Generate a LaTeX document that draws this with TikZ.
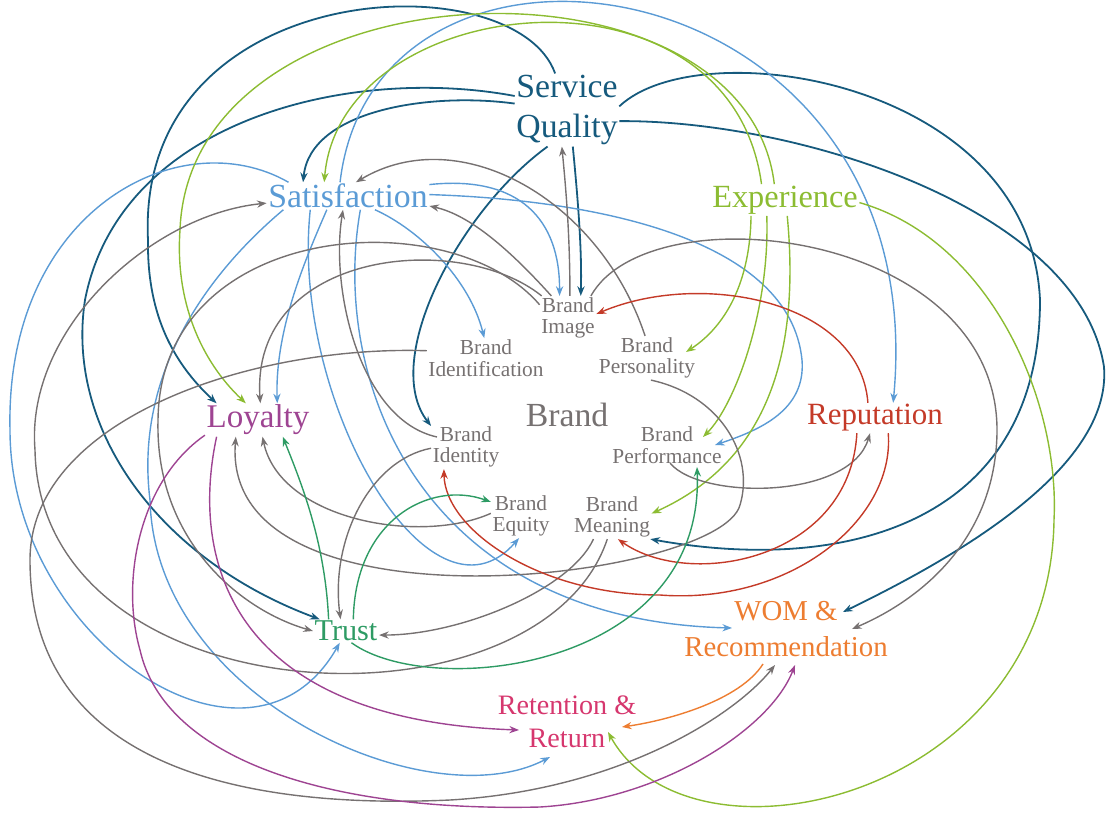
\documentclass[tikz,border=0pt]{standalone}
\usepackage{fontspec}
\setmainfont{Liberation Serif}
\usepackage{tikz}
\usetikzlibrary{arrows.meta}

\definecolor{sqc}{RGB}{22,90,125}
\definecolor{satc}{RGB}{91,155,213}
\definecolor{expc}{RGB}{140,188,50}
\definecolor{loyc}{RGB}{158,68,146}
\definecolor{repc}{RGB}{196,58,40}
\definecolor{trustc}{RGB}{46,155,100}
\definecolor{womc}{RGB}{237,125,49}
\definecolor{retc}{RGB}{214,55,110}
\definecolor{brc}{RGB}{118,113,113}

\begin{document}
\begin{tikzpicture}[
    x=0.025cm, y=-0.025cm,
    concept/.style={
        align=center,
        inner sep=1pt
    },
    part/.style={
        align=center,
        inner sep=1pt,
        text=brc,
        font=\fontsize{15.2}{15.2}\selectfont
    },
    link/.style={
        -{Stealth[length=2.4mm, width=1.8mm]},
        line width=0.35mm
    }
]
\useasboundingbox (0,0) rectangle (1109,814);

\node[concept, text=sqc, font=\fontsize{24}{28.5}\selectfont] (sq) at (567,110) {Service\\Quality};
\node[concept, text=satc, font=\fontsize{24}{28}\selectfont] (sat) at (348,196) {Satisfaction};
\node[concept, text=expc, font=\fontsize{23}{28}\selectfont] (exp) at (785,200) {Experience};
\node[concept, text=loyc, font=\fontsize{23.5}{28}\selectfont] (loy) at (258,420) {Loyalty};
\node[concept, text=brc, font=\fontsize{24}{28}\selectfont] (brand) at (567,415) {Brand};
\node[concept, text=repc, font=\fontsize{22}{28}\selectfont] (rep) at (875,418) {Reputation};
\node[concept, text=trustc, font=\fontsize{21.5}{28}\selectfont] (trust) at (346,631) {Trust};
\node[concept, text=womc, font=\fontsize{20.5}{25}\selectfont] (wom) at (786,629) {WOM \&\\Recommendation};
\node[concept, text=retc, font=\fontsize{20}{23.5}\selectfont] (ret) at (567,722) {Retention \&\\Return};

\node[part] (bimg) at (568,318) {Brand\\Image};
\node[part] (bidf) at (486,358) {Brand\\Identification};
\node[part] (bper) at (647,358) {Brand\\Personality};
\node[part] (bidt) at (466,447) {Brand\\Identity};
\node[part] (bperf) at (667,445) {Brand\\Performance};
\node[part] (beq) at (521,516) {Brand\\Equity};
\node[part] (bmean) at (612,517) {Brand\\Meaning};

% service quality
\draw[link, sqc, line width=0.45mm] (sq.173) .. controls (430,92) and (310,110) .. (sat.163);
\draw[link, sqc, line width=0.45mm] (sq.108) .. controls (515,-40) and (135,-25) .. (148,240) .. controls (147,310) and (170,360) .. (loy.158);
\draw[link, sqc, line width=0.45mm] (sq.165) .. controls (350,65) and (120,120) .. (85,300) .. controls (65,430) and (160,560) .. (trust.156);
\draw[link, sqc, line width=0.45mm] (sq.-81) .. controls (578,200) and (582,250) .. (bimg.60);
\draw[link, sqc, line width=0.45mm] (sq.242) .. controls (460,210) and (380,360) .. (bidt.149);
\draw[link, sqc, line width=0.45mm] (sq.4) .. controls (700,30) and (1030,80) .. (1040,300) .. controls (1040,520) and (850,575) .. (bmean.-30);
\draw[link, sqc, line width=0.45mm] (sq.-12) .. controls (800,120) and (1080,210) .. (1104,367) .. controls (1112,470) and (950,560) .. ([shift={(57,-17)}]wom.center);

% satisfaction
\draw[link, satc] (sat.8) .. controls (520,175) and (560,220) .. (bimg.111);
\draw[link, satc] (sat.-27) .. controls (420,230) and (470,280) .. (bidf.95);
\draw[link, satc] (sat.1) .. controls (600,200) and (790,240) .. (802,360) .. controls (806,410) and (760,430) .. ([shift={(48,0)}]bperf.center);
\draw[link, satc] (sat.213) .. controls (305,260) and (275,330) .. (loy.41);
\draw[link, satc] (sat.200) .. controls (290,400) and (430,640) .. (beq.265);
\draw[link, satc] (sat.312) .. controls (330,380) and (420,620) .. ([shift={(-54,-1)}]wom.center);
\draw[link, satc] (sat.192) .. controls (200,280) and (135,380) .. (150,500) .. controls (155,700) and (430,820) .. ([shift={(-17,35)}]ret.center);
\draw[link, satc] (sat.167) .. controls (180,120) and (5,210) .. (10,430) .. controls (10,640) and (250,800) .. (trust.242);
\draw[link, satc] (sat.120) .. controls (375,-120) and (935,-40) .. (rep.40);

% experience
\draw[link, expc] (exp.146) .. controls (730,-50) and (340,-10) .. (sat.150);
\draw[link, expc] (exp.124) .. controls (745,-60) and (190,-40) .. (180,230) .. controls (175,300) and (200,360) .. (loy.126);
\draw[link, expc] (exp.205) .. controls (750,290) and (720,330) .. ([shift={(39,-6)}]bper.center);
\draw[link, expc] (exp.221) .. controls (770,310) and (735,405) .. ([shift={(36,-8)}]bperf.center);
\draw[link, expc] (exp.278) .. controls (800,350) and (770,460) .. (bmean.5);
\draw[link, expc] (exp.-2) .. controls (990,240) and (1060,400) .. (1054,520) .. controls (1050,800) and (690,880) .. ([shift={(41,10)}]ret.center);

% brand parts
\draw[link, brc] (bimg.85) .. controls (570,230) and (565,180) .. (sq.262);
\draw[link, brc] (bimg.127) .. controls (510,250) and (470,215) .. (sat.-7);
\draw[link, brc] (bper.95) .. controls (600,200) and (460,120) .. (sat.60);
\draw[link, brc] (bmean.258) .. controls (540,740) and (40,720) .. (35,450) .. controls (25,330) and (150,215) .. (sat.185);
\draw[link, brc] ([shift={(-29,-10)}]bidt.center) .. controls (360,420) and (330,290) .. (sat.250);
\draw[link, brc] (bimg.140) .. controls (460,230) and (250,250) .. (loy.82);
\draw[link, brc] (bper.-80) .. controls (720,395) and (755,455) .. (740,505) .. controls (720,580) and (220,640) .. (loy.217);
\draw[link, brc] (beq.175) .. controls (420,545) and (280,520) .. (loy.285);
\draw[link, brc] (bimg.155) .. controls (450,200) and (160,220) .. (158,420) .. controls (155,540) and (240,610) .. (trust.180);
\draw[link, brc] (bidt.182) .. controls (370,460) and (330,540) .. (trust.115);
\draw[link, brc] (bmean.230) .. controls (570,590) and (460,635) .. (trust.-7);
\draw[link, brc] ([shift={(3,18)}]bperf.center) .. controls (700,500) and (850,500) .. (rep.252);
\draw[link, brc] (bimg.44) .. controls (650,190) and (1000,230) .. (997,433) .. controls (995,540) and (920,600) .. ([shift={(66,0)}]wom.center);
\draw[link, brc] (bidf.173) .. controls (250,345) and (30,420) .. (30,560) .. controls (30,760) and (230,810) .. (450,800) .. controls (620,790) and (735,715) .. ([shift={(-11,36)}]wom.center);

% loyalty
\draw[link, loyc] (loy.202) .. controls (190,560) and (230,720) .. ([shift={(-48,8)}]ret.center);
\draw[link, loyc] (loy.196) .. controls (140,480) and (120,580) .. (140,650) .. controls (165,760) and (330,812) .. (540,807) .. controls (660,800) and (770,730) .. ([shift={(9,36)}]wom.center);

% reputation
\draw[link, repc] (rep.115) .. controls (860,300) and (700,270) .. (bimg.8);
\draw[link, repc] (rep.311) .. controls (895,520) and (790,605) .. (660,595) .. controls (540,595) and (445,530) .. (bidt.225);
\draw[link, repc] (rep.220) .. controls (850,560) and (690,590) .. (bmean.-75);

% trust
\draw[link, trustc] (trust.146) .. controls (325,540) and (300,480) .. (loy.326);
\draw[link, trustc] (trust.58) .. controls (355,520) and (430,480) .. (beq.155);
\draw[link, trustc] (trust.295) .. controls (430,700) and (705,670) .. ([shift={(30,22)}]bperf.center);

% word of mouth
\draw[link, womc] ([shift={(-23,35)}]wom.center) .. controls (740,700) and (670,720) .. ([shift={(55,5)}]ret.center);

\end{tikzpicture}
\end{document}
